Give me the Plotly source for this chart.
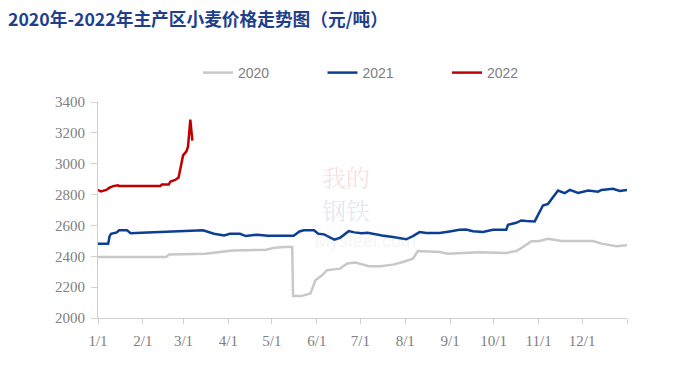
import plotly.graph_objects as go

# ---- data (day offset from 1/1, price in 元/吨) ----
days_2020 = [0, 47, 49, 74, 84, 93, 116, 121, 128, 134, 134.6, 140, 146.6, 150, 154.6, 158, 167, 172, 177.6, 187,
             195, 203.5, 210.4, 217.3, 220.7, 235.7, 241.4, 251.8, 263.3, 281.7, 288.6, 293.2, 299, 303.6, 310.5,
             319.7, 341.6, 347.4, 357.7, 365]
price_2020 = [2396, 2396, 2411, 2417, 2428, 2437, 2443, 2454, 2460, 2460, 2142, 2142, 2159, 2245, 2277, 2310, 2320,
              2353, 2359, 2335, 2335, 2346, 2363, 2385, 2434, 2428, 2417, 2422, 2426, 2422, 2434, 2460, 2497, 2497,
              2514, 2499, 2499, 2482, 2465, 2471]

days_2021 = [0, 7, 8, 9, 13, 14.5, 20, 22.5, 30, 45, 60, 72.5, 80, 87, 91, 98, 102, 110, 117, 135, 139, 142, 149,
             152, 156, 161, 163, 167, 173, 177, 182, 186, 191, 196, 203.5, 212.7, 217.3, 221.9, 226.5, 235.7, 242.6,
             249.5, 254, 258.7, 265.6, 272.5, 281.7, 282.9, 288.6, 292, 295.5, 301.3, 307, 310.5, 317.4, 322, 325.5,
             331.3, 338.2, 345, 347.4, 355.4, 360, 365]
price_2021 = [2482, 2482, 2530, 2546, 2555, 2568, 2568, 2550, 2552, 2556, 2560, 2568, 2546, 2535, 2546, 2546, 2531,
              2540, 2533, 2533, 2561, 2568, 2568, 2546, 2542, 2514, 2508, 2520, 2563, 2555, 2550, 2553, 2542, 2535,
              2525, 2510, 2531, 2557, 2551, 2551, 2561, 2572, 2574, 2563, 2557, 2572, 2572, 2604, 2617, 2632, 2628,
              2626, 2729, 2740, 2826, 2809, 2830, 2811, 2826, 2819, 2830, 2837, 2823, 2830]

days_2022 = [0, 2, 5.7, 8, 10.5, 13.8, 14.5, 43, 44, 48.8, 50, 53.3, 55.6, 58.7, 61, 62.1, 63.7, 65.1]
price_2022 = [2830, 2820, 2830, 2845, 2855, 2860, 2855, 2855, 2865, 2865, 2885, 2895, 2910, 3054, 3080, 3110, 3286, 3150]

month_ticks = [0, 31, 59, 90, 120, 151, 181, 212, 243, 273, 304, 334, 365]
month_labels = ["1/1", "2/1", "3/1", "4/1", "5/1", "6/1", "7/1", "8/1", "9/1", "10/1", "11/1", "12/1", ""]

series = [("2020", days_2020, price_2020, "#C8C8C8"),
          ("2021", days_2021, price_2021, "#0B3F94"),
          ("2022", days_2022, price_2022, "#C00000")]

fig = go.Figure()
for name, d, v, c in series:
    fig.add_trace(go.Scatter(x=d, y=v, name=name, mode="lines",
                             line=dict(color=c, width=2.5)))

W, H = 699, 373
L, R, T, B = 98, 72, 102, 55

def px(x):
    return (x - L) / (W - L - R)

def py(y):
    return (H - B - y) / (H - T - B)

fig.update_layout(
    width=W, height=H,
    margin=dict(l=L, r=R, t=T, b=B),
    paper_bgcolor="white", plot_bgcolor="white",
    title=dict(text="<b>2020年-2022年主产区小麦价格走势图（元/吨）</b>",
               x=8 / W, xanchor="left", y=1 - 20 / H, yanchor="middle",
               font=dict(family="Noto Sans CJK SC", size=17.7, color="#1F3F8C")),
    legend=dict(orientation="h", x=px(198), xanchor="left", y=py(73), yanchor="middle",
                font=dict(family="Liberation Sans", size=14, color="#808080"),
                entrywidth=79.5, entrywidthmode="pixels", bgcolor="rgba(0,0,0,0)"),
    xaxis=dict(range=[0, 365], tickvals=month_ticks, ticktext=month_labels,
               showgrid=False, zeroline=False, showline=True, linecolor="#D0D0D0", linewidth=1,
               ticks="outside", ticklen=5, tickcolor="#D0D0D0", ticklabelstandoff=4,
               tickfont=dict(family="Liberation Serif", size=15, color="#808080")),
    yaxis=dict(range=[2000, 3400], dtick=200,
               showgrid=False, zeroline=False, showline=True, linecolor="#D0D0D0", linewidth=1,
               ticks="outside", ticklen=6, tickcolor="#D0D0D0", ticklabelstandoff=3,
               tickfont=dict(family="Liberation Serif", size=15, color="#808080")),
    showlegend=True,
)

# faint watermark
fig.add_annotation(xref="paper", yref="paper", x=px(346), y=py(176), text="我的", showarrow=False,
                   font=dict(family="Noto Serif CJK SC, Noto Sans CJK SC", size=24, color="rgba(225,110,110,0.22)"))
fig.add_annotation(xref="paper", yref="paper", x=px(346), y=py(209), text="钢铁", showarrow=False,
                   font=dict(family="Noto Serif CJK SC, Noto Sans CJK SC", size=24, color="rgba(80,110,190,0.18)"))
fig.add_annotation(xref="paper", yref="paper", x=px(365), y=py(241), text="Mysteel.com", showarrow=False,
                   font=dict(family="Liberation Sans", size=18, color="rgba(170,170,170,0.14)"))

fig.write_html("out.html", config={"displayModeBar": False},
               post_script="document.body.style.margin='0';")
